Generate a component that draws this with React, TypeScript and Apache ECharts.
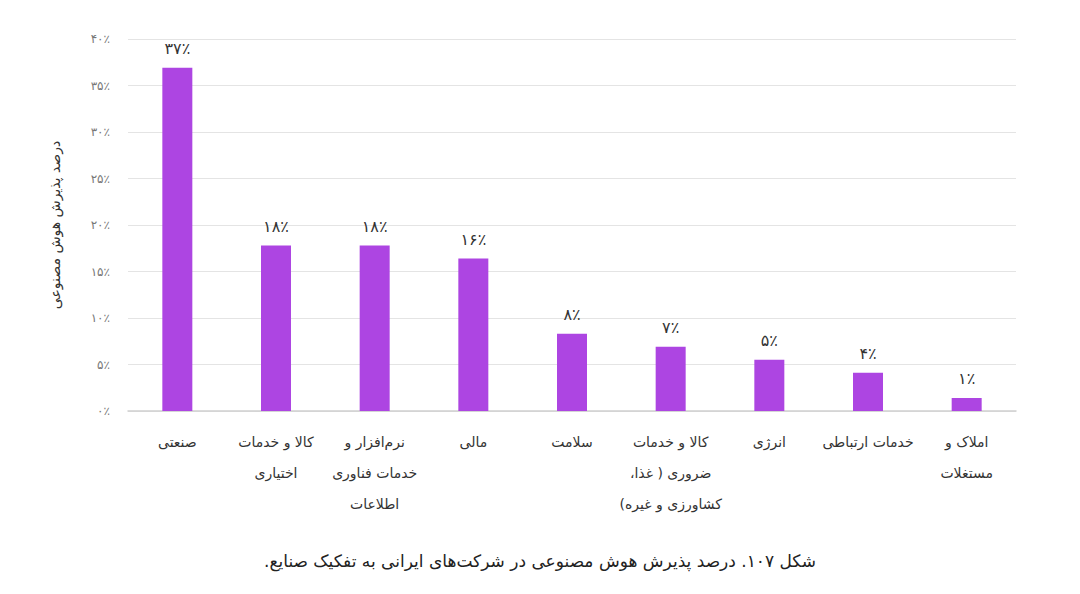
import { useEffect, useRef } from 'react';
import * as echarts from 'echarts';

const CATEGORIES = [
  'صنعتی',
  'کالا و خدمات\nاختیاری',
  'نرم‌افزار و\nخدمات فناوری\nاطلاعات',
  'مالی',
  'سلامت',
  'کالا و خدمات\nضروری ( غذا،\nکشاورزی و غیره)',
  'انرژی',
  'خدمات ارتباطی',
  'املاک و\nمستغلات',
];

const VALUES = [36.9, 17.8, 17.8, 16.4, 8.3, 6.9, 5.5, 4.1, 1.4];
const VALUE_LABELS = [37, 18, 18, 16, 8, 7, 5, 4, 1];

const Y_NAME = 'درصد پذیرش هوش مصنوعی';
const CAPTION = 'شکل ۱۰۷. درصد پذیرش هوش مصنوعی در شرکت‌های ایرانی به تفکیک صنایع.';

const FONT = '"DejaVu Sans", "Noto Sans", sans-serif';

const faDigits = (s: string | number) =>
  String(s).replace(/[0-9]/g, (d) => '۰۱۲۳۴۵۶۷۸۹'[Number(d)]);

// wrap each line in a right-to-left embedding so punctuation lands on the right side
const rtl = (s: string) =>
  s
    .split('\n')
    .map((line) => '\u202B' + line + '\u202C')
    .join('\n');

export default function App() {
  const ref = useRef<HTMLDivElement>(null);

  useEffect(() => {
    if (!ref.current) return;
    const chart = echarts.init(ref.current, null, { renderer: 'svg' });
    chart.setOption({
      animation: false,
      backgroundColor: '#fff',
      textStyle: { fontFamily: FONT },
      title: {
        text: rtl(CAPTION),
        left: 'center',
        top: 539,
        textStyle: { fontFamily: FONT, fontSize: 17, fontWeight: 'normal', color: '#222' },
      },
      grid: { left: 120, right: 56, top: 31, bottom: 175 },
      xAxis: {
        type: 'category',
        data: CATEGORIES.map(rtl),
        axisTick: { show: false },
        axisLine: { lineStyle: { color: '#cfcfcf', width: 1.5 } },
        axisLabel: {
          interval: 0,
          margin: 15,
          fontSize: 14,
          lineHeight: 31,
          color: '#333',
          fontFamily: FONT,
        },
      },
      yAxis: {
        type: 'value',
        min: 0,
        max: 40,
        interval: 5,
        name: rtl(Y_NAME),
        nameLocation: 'middle',
        nameRotate: 90,
        nameGap: 66,
        nameTextStyle: { fontSize: 14, color: '#333', fontFamily: FONT },
        axisLine: { show: false },
        axisTick: { show: false },
        splitLine: { lineStyle: { color: '#e4e4e4' } },
        axisLabel: {
          margin: 18,
          fontSize: 12,
          color: '#777',
          fontFamily: FONT,
          formatter: (v: number) => faDigits(v) + '٪',
        },
      },
      series: [
        {
          type: 'bar',
          data: VALUES,
          barWidth: 30,
          itemStyle: { color: '#ad45e2' },
          label: {
            show: true,
            position: 'top',
            distance: 11,
            fontSize: 16,
            color: '#333',
            fontFamily: FONT,
            formatter: (p: any) => faDigits(VALUE_LABELS[p.dataIndex]) + '٪',
          },
        },
      ],
    });
    return () => chart.dispose();
  }, []);

  return <div ref={ref} style={{ width: 1064, height: 578 }} />;
}
